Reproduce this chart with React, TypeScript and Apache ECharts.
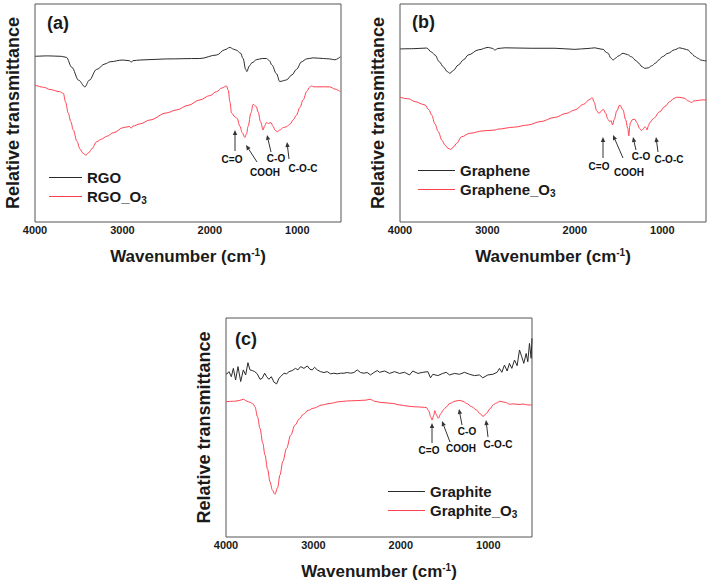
import React, { useEffect, useRef } from "react";
import * as echarts from "echarts";

// ---------- data: [wavenumber (cm-1), relative transmittance (a.u.)] ----------
const rgo: [number, number][] = [
  [4000, 76], [3850, 76.2], [3700, 76], [3640, 75.5], [3580, 71], [3500, 65], [3429, 62], [3380, 65],
  [3295, 70], [3200, 72.5], [3140, 73.5], [3000, 74.3], [2920, 74], [2900, 73.3], [2880, 74], [2800, 74.3],
  [2500, 74.8], [2114, 75], [1923, 76.6], [1830, 79], [1771, 80.1], [1730, 79.3], [1697, 78.8], [1650, 77.5],
  [1620, 75], [1590, 70], [1577, 69], [1550, 71.5], [1520, 73], [1463, 74.5], [1400, 75], [1352, 75],
  [1320, 74], [1290, 72], [1238, 68], [1200, 64.4], [1160, 64.8], [1124, 65.2], [1060, 67.5], [1010, 70],
  [950, 73.5], [895, 74.8], [819, 75.3], [700, 75], [629, 74.8], [571, 74.4], [507, 75.8],
];
const rgoO3: [number, number][] = [
  [4000, 62.8], [3900, 61.8], [3830, 60.8], [3720, 59.8], [3676, 59], [3650, 55], [3620, 50], [3590, 46],
  [3562, 42.2], [3520, 37], [3486, 33.5], [3450, 31.5], [3417, 30.7], [3380, 32], [3352, 33.5], [3295, 36.8],
  [3240, 38], [3181, 39.3], [3100, 41], [2990, 43.3], [2920, 43.8], [2900, 43], [2880, 44], [2800, 45],
  [2686, 46.8], [2500, 50], [2381, 51.4], [2250, 53.5], [2114, 56], [2000, 58], [1923, 59.8], [1860, 61.5],
  [1810, 62.4], [1790, 60.5], [1770, 55], [1752, 50], [1714, 48.3], [1688, 47.5], [1657, 44], [1630, 41],
  [1600, 38.8], [1580, 40.5], [1562, 44], [1530, 50], [1505, 54], [1470, 53], [1448, 50.5], [1420, 46],
  [1391, 42.2], [1375, 44], [1353, 45.6], [1330, 45.2], [1300, 45.6], [1280, 44], [1250, 42], [1230, 41.4],
  [1200, 42.2], [1160, 43.3], [1124, 43.7], [1080, 45], [1048, 46.8], [1010, 49], [970, 52.5], [933, 56],
  [890, 60], [860, 61.8], [838, 62.4], [810, 62], [781, 62], [700, 62], [629, 62], [570, 61], [507, 59.8],
];
const graphene: [number, number][] = [
  [4000, 79.4], [3850, 79.5], [3695, 79.8], [3640, 78], [3600, 76.6], [3550, 73.5], [3505, 71.2], [3460, 69],
  [3429, 68.2], [3390, 69.5], [3334, 72], [3270, 74.5], [3220, 76.6], [3100, 79], [2990, 80.1], [2940, 79.6],
  [2914, 78.9], [2880, 79.6], [2800, 79.9], [2500, 79.7], [2228, 79.7], [2000, 79.2], [1850, 79.6], [1771, 79.9],
  [1700, 79.3], [1676, 79.2], [1640, 77.8], [1619, 77.4], [1590, 75.3], [1562, 74.3], [1530, 75.3], [1505, 76.1],
  [1448, 77.4], [1400, 76.8], [1353, 75.8], [1300, 74], [1277, 73.1], [1230, 71.2], [1200, 70.5], [1160, 70.7],
  [1124, 71.6], [1080, 72.8], [1040, 74.3], [1000, 75.8], [933, 77.4], [860, 79], [800, 79.9], [740, 79.3],
  [705, 78.9], [670, 77.5], [630, 76], [591, 75.1], [560, 74.3], [520, 74], [496, 73.9],
];
const grapheneO3: [number, number][] = [
  [4000, 57.2], [3900, 56.5], [3830, 55.2], [3714, 53.7], [3670, 51.5], [3638, 49.1], [3600, 45], [3562, 41.4],
  [3520, 37.5], [3486, 35.3], [3450, 33.8], [3421, 33.3], [3385, 34.5], [3353, 36.1], [3295, 39.1], [3200, 40.7],
  [3050, 41.8], [2914, 42.2], [2880, 42.6], [2700, 43.5], [2533, 44.5], [2400, 46], [2228, 48], [2100, 49.8],
  [2000, 51.4], [1900, 54], [1828, 56.3], [1800, 57], [1780, 55], [1750, 51], [1722, 49.8], [1700, 50.8],
  [1676, 51.7], [1650, 50], [1620, 47], [1600, 46], [1585, 46.5], [1569, 44.5], [1550, 47], [1520, 51],
  [1486, 53.7], [1450, 51.5], [1420, 47], [1395, 43], [1383, 39.5], [1372, 44], [1364, 45.6], [1340, 47],
  [1314, 47.1], [1290, 45.5], [1260, 43], [1238, 41.9], [1215, 42.8], [1200, 43.7], [1185, 43.2], [1173, 42.2],
  [1160, 44], [1143, 45.6], [1100, 47.5], [1029, 50.6], [970, 53], [914, 55.2], [870, 56.6], [838, 57.2],
  [800, 57.2], [750, 56.8], [700, 55.5], [666, 54.8], [640, 55.5], [600, 55.7], [550, 56], [494, 56],
];
const graphite: [number, number][] = [
  [4000, 74.6], [3992, 74.4], [3966, 75.5], [3939, 73.2], [3916, 77], [3890, 71.7], [3863, 77.8], [3832, 71],
  [3802, 76.3], [3775, 74], [3749, 79.6], [3726, 76.3], [3699, 76], [3672, 75.5], [3642, 74.5], [3611, 72],
  [3585, 72.5], [3558, 74.8], [3535, 73.2], [3509, 72], [3482, 73.2], [3451, 70.7], [3421, 69.9], [3394, 72.5],
  [3368, 73.5], [3337, 74.8], [3307, 74.5], [3280, 75.5], [3242, 76], [3204, 77], [3177, 76.3], [3147, 77.8],
  [3109, 77], [3070, 78.1], [3040, 76.6], [3013, 76.3], [2987, 77.5], [2956, 76.3], [2918, 75.5], [2880, 75.1],
  [2842, 75.5], [2804, 74.5], [2766, 74.8], [2728, 74.5], [2689, 74.8], [2651, 74.8], [2613, 75.1], [2575, 74.8],
  [2537, 75.1], [2499, 76.3], [2461, 75.1], [2423, 74.8], [2385, 75.1], [2347, 74], [2308, 75.1], [2270, 76],
  [2244, 75.2], [2186, 75.8], [2129, 74.7], [2072, 75.5], [2015, 74.7], [1958, 75.2], [1901, 74], [1863, 75.8],
  [1805, 74.7], [1748, 75.2], [1691, 75.5], [1661, 72.7], [1634, 74.3], [1577, 73.7], [1520, 74.7], [1482, 75.2],
  [1443, 74], [1386, 74.7], [1329, 74.3], [1272, 75.2], [1215, 74.3], [1158, 73.7], [1101, 74], [1063, 72.7],
  [1005, 74], [948, 74.3], [899, 75.2], [872, 77], [845, 75.2], [815, 78.5], [784, 75.8], [758, 79.3],
  [731, 77], [700, 80.8], [670, 78.2], [643, 85.4], [617, 82.3], [594, 79.3], [567, 83.8], [548, 80],
  [529, 88.4], [510, 81.6], [500, 90.7],
];
const graphiteO3: [number, number][] = [
  [4000, 61.8], [3900, 62], [3850, 62.3], [3802, 62.9], [3760, 62], [3726, 61.5], [3690, 60.8], [3669, 59.5],
  [3640, 55], [3611, 49.6], [3580, 43], [3554, 37.4], [3525, 31], [3497, 25.3], [3470, 21.5], [3440, 19.5],
  [3410, 22.5], [3383, 28.3], [3350, 34.5], [3307, 40.5], [3260, 46.5], [3211, 51.1], [3160, 54], [3116, 56],
  [3060, 57.8], [3002, 58.8], [2900, 60.3], [2811, 61], [2700, 61.8], [2621, 62.1], [2500, 62.3], [2400, 62.5],
  [2354, 62.9], [2300, 62], [2240, 61.5], [2100, 61], [2011, 60.3], [1930, 59.8], [1859, 59.5], [1760, 59.3],
  [1707, 59.1], [1680, 57.5], [1660, 55], [1642, 53.4], [1625, 55.5], [1611, 57.7], [1595, 56], [1573, 54.2],
  [1540, 56.5], [1516, 58], [1477, 59.5], [1440, 61], [1380, 62], [1333, 62.4], [1290, 62], [1249, 61],
  [1190, 59.5], [1135, 58], [1100, 56.5], [1059, 55.1], [1020, 56.5], [982, 58.5], [940, 60.5], [906, 61.2],
  [868, 62], [800, 61.4], [754, 60.6], [716, 60.8], [650, 60.5], [600, 60.7], [550, 60.3], [499, 60.3],
];

const panelLabels = ["(a)", "(b)", "(c)"];
const seriesNames = [["RGO", "RGO_O3"], ["Graphene", "Graphene_O3"], ["Graphite", "Graphite_O3"]];
const peakLabels = ["C=O", "COOH", "C-O", "C-O-C"];
const xTickStep = 500;

const FONT = "'Liberation Sans', Arial, sans-serif";
const BLACK = "#2b2b2b";
const RED = "#ff4050";
const FRAME = "#555555";

const grids = [
  { left: 35, top: 4, width: 306, height: 218 },
  { left: 400, top: 4, width: 307, height: 218 },
  { left: 226, top: 318, width: 306, height: 219 },
];

// annotation layout: [textX, textY, arrowX1, arrowY1, arrowX2, arrowY2]
const annos: number[][][] = [
  [[232, 159, 235, 151, 235, 130], [265, 172, 257, 162, 246, 145], [276, 158, 271, 152, 267, 135], [303, 168, 289, 159, 287, 142]],
  [[599, 166, 603, 158, 603, 137], [629, 172, 623, 158, 613, 135], [641, 156, 636, 150, 633, 137], [669, 159, 658, 152, 656, 137]],
  [[429, 450, 432, 443, 432, 423], [461, 448, 450, 442, 442, 421], [467, 431, 462, 425, 459, 409], [498, 444, 488, 437, 486, 420]],
];
const panelLabelPos = [[47, 23], [412, 22], [235, 339]];
const legendPos = [
  { left: 49, top: 170, itemWidth: 33 },
  { left: 418, top: 163, itemWidth: 37 },
  { left: 388, top: 484, itemWidth: 37 },
];

function arrow(x1: number, y1: number, x2: number, y2: number) {
  const dx = x2 - x1, dy = y2 - y1;
  const L = Math.hypot(dx, dy);
  const ux = dx / L, uy = dy / L;
  const hl = 5, hw = 2.2;
  const bx = x2 - ux * hl, by = y2 - uy * hl;
  const px = -uy, py = ux;
  return [
    { type: "line", shape: { x1, y1, x2: bx, y2: by }, style: { stroke: "#333", lineWidth: 1 } },
    {
      type: "polygon",
      shape: { points: [[x2, y2], [bx + px * hw, by + py * hw], [bx - px * hw, by - py * hw]] },
      style: { fill: "#333" },
    },
  ];
}

export default function App() {
  const ref = useRef<HTMLDivElement>(null);
  useEffect(() => {
    if (!ref.current) return;
    const chart = echarts.init(ref.current, null, { renderer: "svg" });
    const data = [[rgo, rgoO3], [graphene, grapheneO3], [graphite, graphiteO3]];

    const xAxes = grids.map((_, i) => ({
      type: "value",
      gridIndex: i,
      inverse: true,
      min: 500,
      max: 4000,
      interval: xTickStep,
      axisLine: { show: false },
      axisTick: { show: false },
      splitLine: { show: false },
      axisLabel: {
        margin: 2,
        fontSize: 11,
        fontWeight: "bold",
        fontFamily: FONT,
        color: "#1a1a1a",
        formatter: (v: number) => (v % 1000 === 0 ? String(v) : ""),
      },
      name: "{n|Wavenumber (cm}{s|-1}{n|)}",
      nameLocation: "middle",
      nameGap: 25,
      nameTextStyle: {
        rich: {
          n: { fontSize: 17, fontWeight: "bold", fontFamily: FONT, color: "#1a1a1a" },
          s: { fontSize: 10, fontWeight: "bold", fontFamily: FONT, color: "#1a1a1a", padding: [0, 0, 9, 0] },
        },
      },
    }));
    const yAxes = grids.map((_, i) => ({
      type: "value",
      gridIndex: i,
      min: 0,
      max: 100,
      axisLine: { show: false },
      axisTick: { show: false },
      splitLine: { show: false },
      axisLabel: { show: false },
      name: "Relative transmittance",
      nameLocation: "middle",
      nameGap: 13,
      nameTextStyle: { fontSize: 18, fontWeight: "bold", fontFamily: FONT, color: "#1a1a1a" },
    }));

    const series: any[] = [];
    data.forEach((pair, i) => {
      pair.forEach((d, j) => {
        series.push({
          name: seriesNames[i][j],
          type: "line",
          xAxisIndex: i,
          yAxisIndex: i,
          data: d,
          symbol: "none",
          smooth: i === 2 && j === 0 ? false : 0.35,
          smoothMonotone: "x",
          lineStyle: { color: j === 0 ? BLACK : RED, width: 1 },
          itemStyle: { color: j === 0 ? BLACK : RED },
        });
      });
    });

    const legends = legendPos.map((p, i) => ({
      left: p.left,
      top: p.top,
      orient: "vertical",
      padding: 0,
      icon: "rect",
      itemWidth: p.itemWidth,
      itemHeight: 1.2,
      itemGap: 4,
      data: seriesNames[i],
      formatter: (name: string) =>
        name.endsWith("_O3") ? `{n|${name.slice(0, -1)}}{sub|3}` : `{n|${name}}`,
      textStyle: {
        rich: {
          n: { fontSize: 15, fontWeight: "bold", fontFamily: FONT, color: "#1a1a1a" },
          sub: { fontSize: 10, fontWeight: "bold", fontFamily: FONT, color: "#1a1a1a", padding: [7, 0, 0, 0] },
        },
      },
    }));

    const graphic: any[] = [];
    panelLabels.forEach((t, i) => {
      graphic.push({
        type: "text",
        x: panelLabelPos[i][0],
        y: panelLabelPos[i][1],
        style: {
          text: t,
          font: `bold 18px ${FONT}`,
          fill: "#1a1a1a",
          textAlign: "left",
          textVerticalAlign: "middle",
        },
      });
    });
    annos.forEach((panel) => {
      panel.forEach((a, k) => {
        graphic.push({
          type: "text",
          x: a[0],
          y: a[1],
          style: {
            text: peakLabels[k],
            font: `bold 10px ${FONT}`,
            fill: "#111",
            textAlign: "center",
            textVerticalAlign: "middle",
          },
        });
        graphic.push(...arrow(a[2], a[3], a[4], a[5]));
      });
    });

    chart.setOption({
      animation: false,
      backgroundColor: "#ffffff",
      grid: grids.map((g) => ({ ...g, show: true, borderColor: FRAME, borderWidth: 1, containLabel: false })),
      xAxis: xAxes,
      yAxis: yAxes,
      legend: legends,
      series,
      graphic,
    });
    return () => chart.dispose();
  }, []);
  return (
    <div
      ref={ref}
      style={{ position: "fixed", left: 0, top: 0, width: 709, height: 588, background: "#fff" }}
    />
  );
}
